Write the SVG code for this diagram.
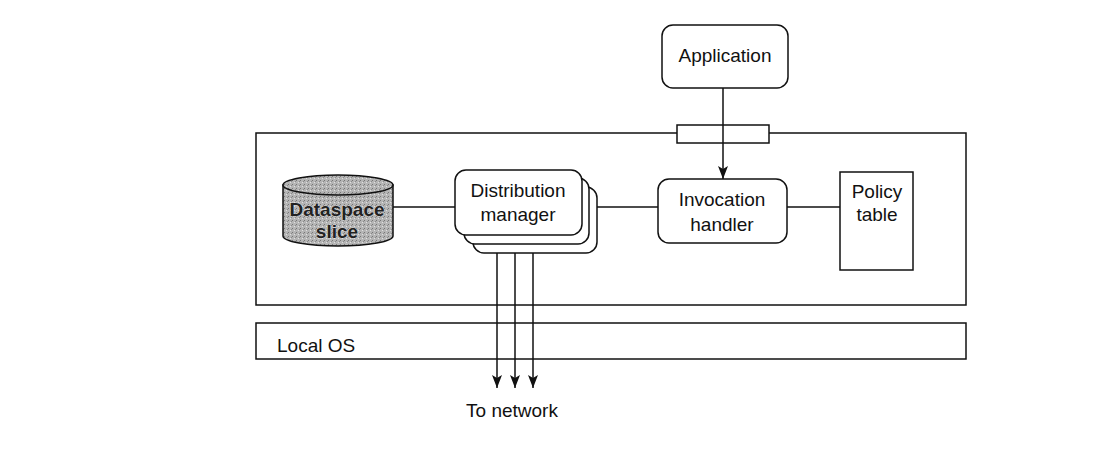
<svg xmlns="http://www.w3.org/2000/svg" width="1114" height="450" viewBox="0 0 1114 450">
<style>
.box{fill:#fff;stroke:#111;stroke-width:1.5}
.ln{fill:none;stroke:#111;stroke-width:1.5}
.t{font-family:"Liberation Sans",Arial,sans-serif;font-size:19px;fill:#111;text-anchor:middle}
.tb{font-family:"Liberation Sans",Arial,sans-serif;font-size:19px;font-weight:bold;fill:#222;text-anchor:middle;stroke:#eee;stroke-width:0.6;paint-order:stroke}
</style>
<defs>
<pattern id="speck" width="4" height="4" patternUnits="userSpaceOnUse">
<rect width="4" height="4" fill="#b5b5b5"/>
<rect x="0" y="0" width="1" height="1" fill="#777"/>
<rect x="2" y="2" width="1" height="1" fill="#e0e0e0"/>
<rect x="3" y="1" width="1" height="1" fill="#8a8a8a"/>
</pattern>
<marker id="arrd" markerWidth="13" markerHeight="10" refX="13" refY="5" orient="auto" markerUnits="userSpaceOnUse" viewBox="0 0 13 10">
<path d="M0,0 L13,5 L0,10 L3,5 Z" fill="#111"/>
</marker>
</defs>

<g id="host">
<rect class="box" x="256" y="133" width="710" height="172"/>
</g>
<g id="interface">
<rect class="box" x="677" y="125" width="92" height="18"/>
</g>
<g id="localos">
<rect class="box" x="256" y="323" width="710" height="36"/>
<text class="t" x="277" y="352" style="text-anchor:start">Local OS</text>
</g>

<g id="connectors">
<line class="ln" x1="393" y1="207" x2="455" y2="207"/>
<line class="ln" x1="597" y1="207" x2="658" y2="207"/>
<line class="ln" x1="787" y1="207" x2="840" y2="207"/>
<line class="ln" x1="723" y1="88" x2="723" y2="179" marker-end="url(#arrd)"/>
<line class="ln" x1="497" y1="235" x2="497" y2="388" marker-end="url(#arrd)"/>
<line class="ln" x1="515" y1="243" x2="515" y2="388" marker-end="url(#arrd)"/>
<line class="ln" x1="533" y1="251" x2="533" y2="388" marker-end="url(#arrd)"/>
</g>

<g id="application">
<rect class="box" x="662" y="25" width="126" height="63" rx="11"/>
<text class="t" x="725" y="62">Application</text>
</g>

<g id="dataspace">
<path d="M283,185 L283,236 A55,10 0 0 0 393,236 L393,185 Z" fill="url(#speck)" stroke="#111" stroke-width="1.5"/>
<ellipse cx="338" cy="185" rx="55" ry="10" fill="url(#speck)" stroke="#111" stroke-width="1.5"/>
<text class="tb" x="337" y="216">Dataspace</text>
<text class="tb" x="337" y="238">slice</text>
</g>

<g id="distribution">
<rect class="box" x="473" y="187" width="124" height="66" rx="11"/>
<rect class="box" x="464" y="178" width="125" height="66" rx="11"/>
<rect class="box" x="455" y="170" width="127" height="65" rx="11"/>
<text class="t" x="518" y="197">Distribution</text>
<text class="t" x="518" y="221">manager</text>
</g>

<g id="invocation">
<rect class="box" x="658" y="179" width="129" height="64" rx="11"/>
<text class="t" x="722" y="206">Invocation</text>
<text class="t" x="722" y="231">handler</text>
</g>

<g id="policy">
<rect class="box" x="840" y="172" width="73" height="98"/>
<text class="t" x="877" y="198">Policy</text>
<text class="t" x="877" y="221">table</text>
</g>

<text class="t" x="512" y="417">To network</text>
</svg>
